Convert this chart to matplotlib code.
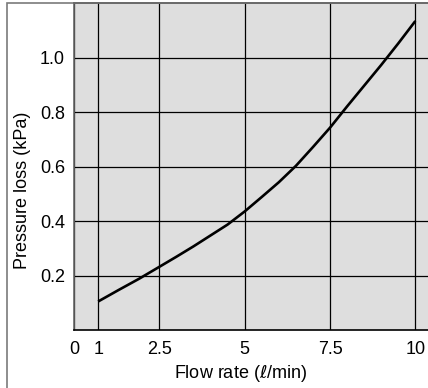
import numpy as np
import matplotlib
matplotlib.use("Agg")
import matplotlib.pyplot as plt
from matplotlib.patches import Rectangle

plt.rcParams['font.family'] = ['Liberation Sans', 'DejaVu Sans']
plt.rcParams['mathtext.fontset'] = 'dejavusans'

# flow rate (l/min) vs pressure loss (kPa)
flow = [1, 1.5, 2, 2.5, 3, 3.5, 4, 4.5, 5, 5.5, 6, 6.5, 7, 7.5, 8, 8.5, 9, 9.5, 10]
loss = [0.106, 0.148, 0.189, 0.233, 0.270, 0.308, 0.348, 0.388, 0.436, 0.489,
        0.543, 0.603, 0.672, 0.743, 0.821, 0.897, 0.973, 1.052, 1.134]

x_ticks = [0, 1, 2.5, 5, 7.5, 10]
x_tick_labels = ['0', '1', '2.5', '5', '7.5', '10']
y_ticks = [0.2, 0.4, 0.6, 0.8, 1.0]
y_tick_labels = ['0.2', '0.4', '0.6', '0.8', '1.0']

# the original axis squeezes the 0..1 stretch
scale_in = [-1, 0, 1, 2.5, 20]
scale_out = [-1, 0, 0.708, 2.5, 20]


def forward(x):
    return np.interp(x, scale_in, scale_out)


def inverse(x):
    return np.interp(x, scale_out, scale_in)


W, H = 428, 388
fs = 13
fig = plt.figure(figsize=(W / 100, H / 100), dpi=100)

# outer frame
fig.patches.append(Rectangle((7 / W, -0.1), 1.2, 1 - 3 / H + 0.1, transform=fig.transFigure,
                             fill=False, edgecolor='#7a7a7a', linewidth=1.2))

ax_left, ax_top, ax_bottom = 74, 3, 330.4
ax = fig.add_axes([ax_left / W, 1 - ax_bottom / H, 1 - ax_left / W, (ax_bottom - ax_top) / H])
ax.set_facecolor('#dedede')
ax.set_xscale('function', functions=(forward, inverse))
ax.set_xlim(0, 10.37)
ax.set_ylim(0, 1.2)

ax.plot(flow, loss, color='black', linewidth=1.9, solid_capstyle='butt')

ax.set_xticks(x_ticks)
ax.set_xticklabels(x_tick_labels)
ax.set_yticks(y_ticks)
ax.set_yticklabels(y_tick_labels)
ax.tick_params(axis='x', length=0, pad=7.5, labelsize=fs)
ax.tick_params(axis='y', length=0, pad=6.5, labelsize=fs)
ax.set_axisbelow(True)
ax.grid(True, color='black', linewidth=0.9)

ax.spines['right'].set_visible(False)
ax.spines['top'].set_color('black')
ax.spines['top'].set_linewidth(1.2)
ax.spines['bottom'].set_color('black')
ax.spines['bottom'].set_linewidth(1.2)
ax.spines['left'].set_color('#666666')
ax.spines['left'].set_linewidth(1.2)

fig.text(241 / W, 1 - 374 / H, r'Flow rate ($\ell$/min)', ha='center', va='center', fontsize=fs)
fig.text(23 / W, 1 - 190 / H, 'Pressure loss (kPa)', ha='center', va='center',
         rotation=90, fontsize=fs)

fig.savefig('out.png', dpi=100)
